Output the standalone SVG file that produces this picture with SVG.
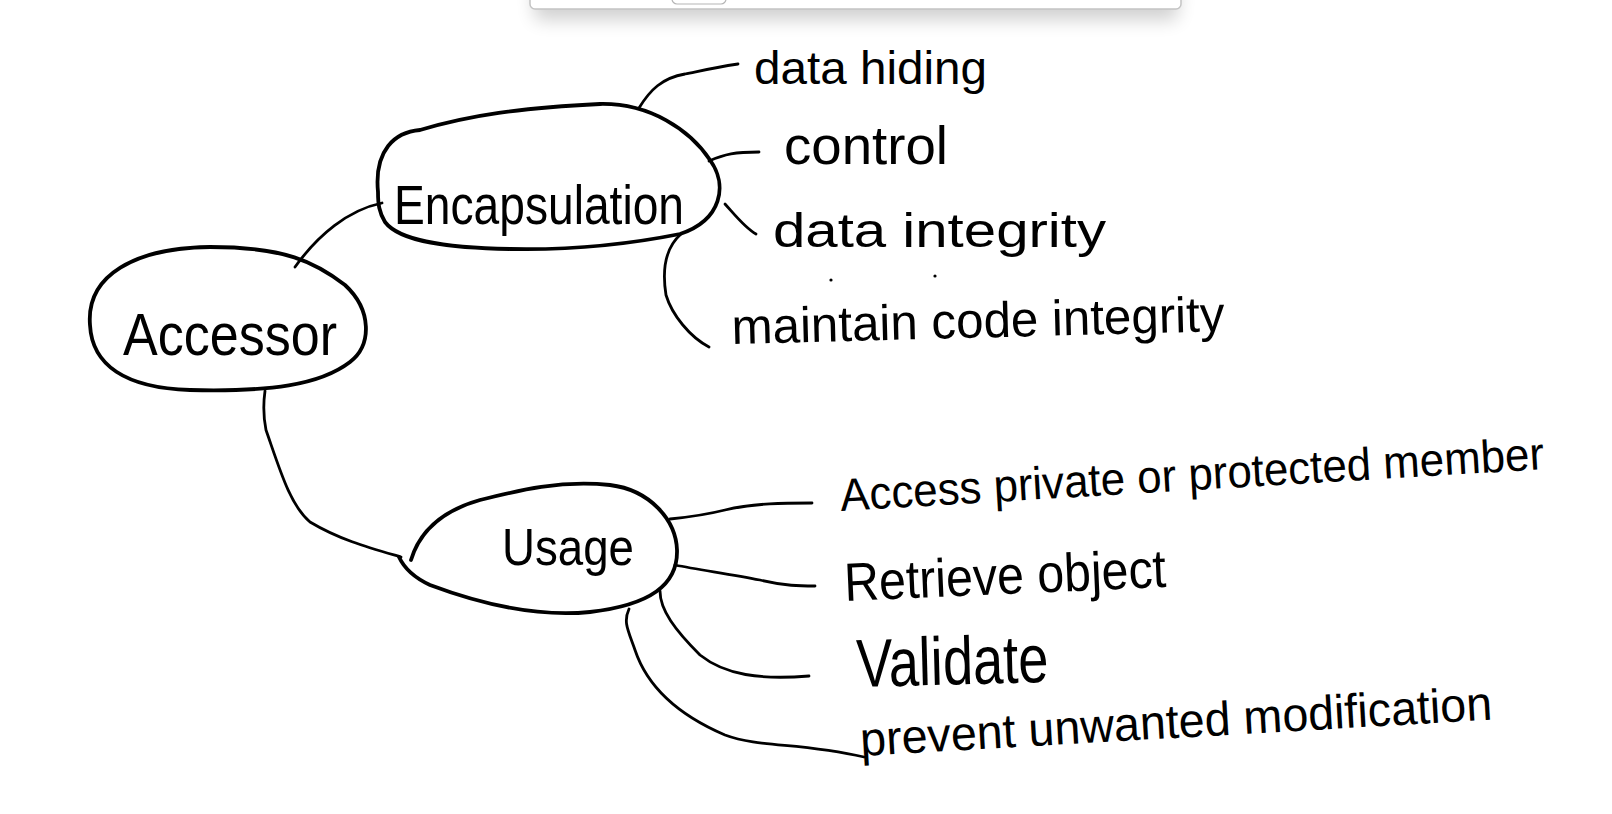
<svg xmlns="http://www.w3.org/2000/svg" width="1612" height="814" viewBox="0 0 1612 814">
<style>
.node{fill:none;stroke:#000;stroke-width:3.8;stroke-linecap:round;stroke-linejoin:round}
.conn{fill:none;stroke:#000;stroke-width:2.8;stroke-linecap:round;stroke-linejoin:round}
.t{font-family:"Liberation Sans","DejaVu Sans",sans-serif;fill:#000}
.thin{font-weight:normal}
</style>
<defs>
<filter id="sh" x="-10%" y="-100%" width="120%" height="400%">
<feGaussianBlur stdDeviation="9"/>
</filter>
</defs>
<rect width="1612" height="814" fill="#fff"/>
<g id="toolbar">
<rect x="534" y="-20" width="644" height="40" rx="6" fill="#000" opacity="0.18" filter="url(#sh)"/>
<rect x="530" y="-20" width="651" height="29" rx="5" fill="#fff" stroke="#c4c4c4" stroke-width="1.5"/>
<rect x="672" y="-20" width="54" height="24" rx="5" fill="#fff" stroke="#b5b5b5" stroke-width="1.2"/>
</g>
<g id="connectors">
<path class="conn" d="M295,267 C318,235 348,210 382,203"/>
<path class="conn" d="M265,391 C263,405 264,420 266,430 C280,470 290,505 310,522 C340,540 370,548 401,557"/>
<path class="conn" d="M639,108 C650,90 662,78 685,74 C700,71 712,68 738,64"/>
<path class="conn" d="M709,161 C725,154 735,152 759,152"/>
<path class="conn" d="M725,204 C735,215 745,228 756,234"/>
<path class="conn" d="M681,234 C665,248 662,270 666,295 C672,315 690,337 709,347"/>
<path class="conn" d="M670,519 C690,517 705,515 725,510 C755,503 785,503 812,503"/>
<path class="conn" d="M675,565 C700,570 730,574 760,580 C785,586 800,586 815,586"/>
<path class="conn" d="M660,591 C660,610 675,630 700,655 C725,675 760,680 809,676"/>
<path class="conn" d="M629,609 C623,622 628,630 635,650 C650,695 690,720 725,735 C760,748 800,742 864,757"/>
</g>
<g id="accessor">
<path class="node" d="M90,325 C86,275 135,248 210,247 C285,247 315,262 345,285 C372,310 372,345 350,362 C320,385 270,392 190,390 C125,388 92,365 90,325 Z"/>
<text class="t" x="123" y="355" font-size="60" textLength="214" lengthAdjust="spacingAndGlyphs">Accessor</text>
</g>
<g id="encapsulation">
<path class="node" d="M378,192 C374,150 395,132 420,130 C470,115 520,108 600,104 C650,103 690,130 710,160 C728,185 722,220 680,234 C620,246 560,250 510,249 C450,248 400,242 385,222 C379,212 378,204 378,192 Z"/>
<text class="t thin" x="394" y="224" font-size="56" textLength="290" lengthAdjust="spacingAndGlyphs">Encapsulation</text>
</g>
<g id="usage">
<path class="node" d="M411,560 C420,530 445,510 480,500 C520,490 560,480 610,485 C650,490 676,520 677,550 C678,585 650,605 590,612 C530,618 470,600 430,585 C415,578 405,570 399,557"/>
<text class="t" x="502" y="565" font-size="52" textLength="132" lengthAdjust="spacingAndGlyphs">Usage</text>
</g>
<g id="data-hiding">
<text class="t" x="754" y="84" font-size="46" textLength="233" lengthAdjust="spacingAndGlyphs">data hiding</text>
</g>
<g id="control">
<text class="t" x="784" y="164" font-size="54" textLength="164" lengthAdjust="spacingAndGlyphs">control</text>
</g>
<g id="data-integrity">
<text class="t" x="773" y="247" font-size="48" textLength="333" lengthAdjust="spacingAndGlyphs">data integrity</text>
<circle cx="831" cy="280" r="1.6" fill="#000"/>
<circle cx="935" cy="276" r="1.6" fill="#000"/>
</g>
<g id="maintain-code-integrity">
<text class="t" x="732" y="344" font-size="50" textLength="493" lengthAdjust="spacingAndGlyphs" transform="rotate(-1.5 732 344)">maintain code integrity</text>
</g>
<g id="access-member">
<text class="t" x="841" y="511" font-size="46" textLength="705" lengthAdjust="spacingAndGlyphs" transform="rotate(-3.4 841 511)">Access private or protected member</text>
</g>
<g id="retrieve-object">
<text class="t" x="845" y="601" font-size="54" textLength="322" lengthAdjust="spacingAndGlyphs" transform="rotate(-2.5 845 601)">Retrieve object</text>
</g>
<g id="validate">
<text class="t" x="857" y="687" font-size="68" textLength="192" lengthAdjust="spacingAndGlyphs" transform="rotate(-1.5 857 687)">Validate</text>
</g>
<g id="prevent">
<text class="t" x="861" y="756" font-size="48" textLength="633" lengthAdjust="spacingAndGlyphs" transform="rotate(-3.3 861 756)">prevent unwanted modification</text>
</g>
</svg>
